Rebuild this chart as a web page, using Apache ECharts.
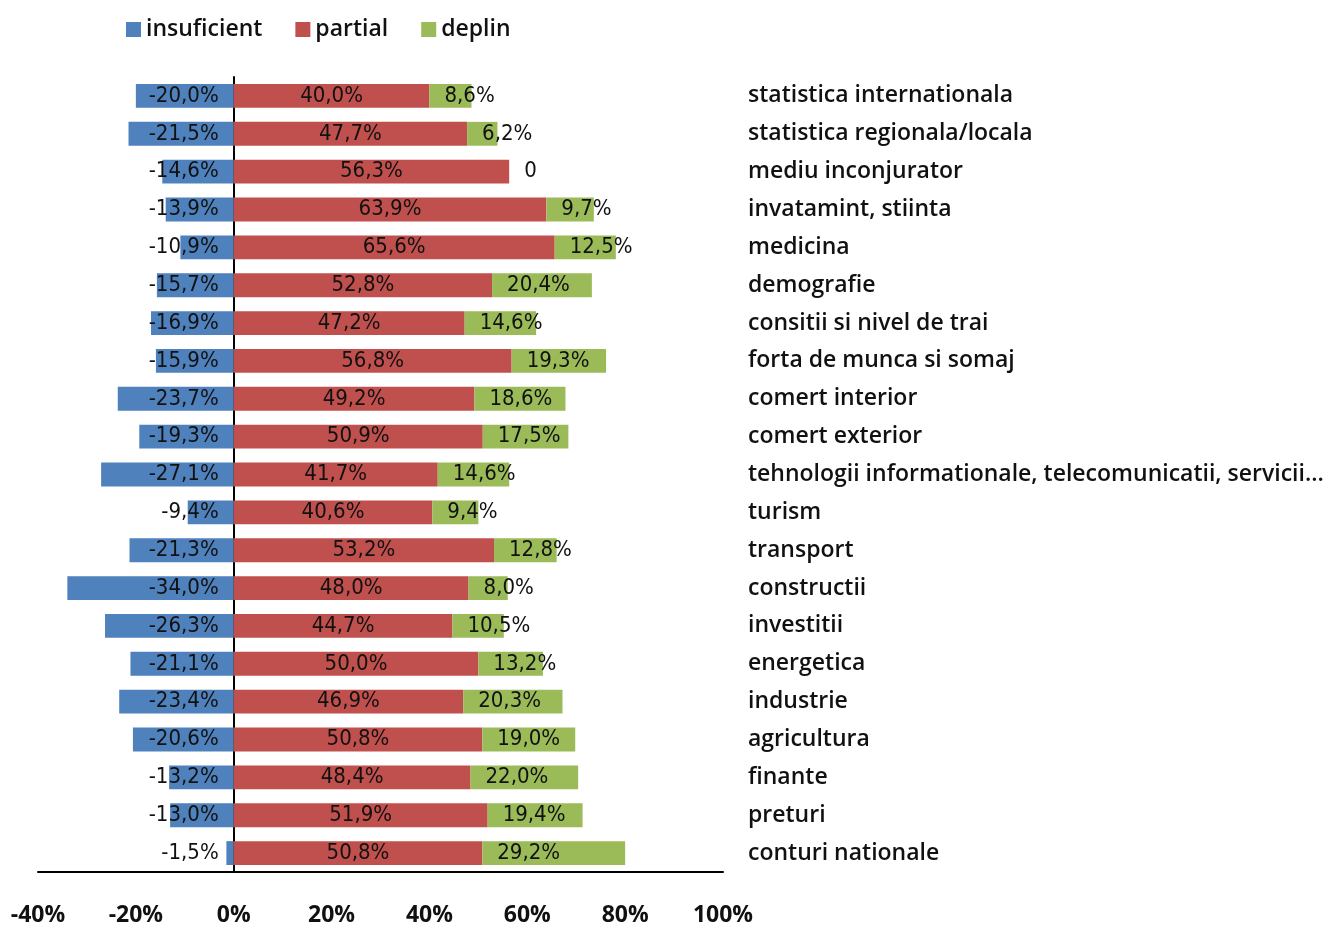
<!DOCTYPE html>
<html>
<head>
<meta charset="utf-8">
<script src="https://cdn.jsdelivr.net/npm/echarts@6/dist/echarts.min.js"></script>
<style>
  html, body { margin: 0; padding: 0; background: #fff; }
  #chart { width: 1327px; height: 927px; }
</style>
</head>
<body>
<div id="chart"></div>
<script>
// Domains, top to bottom
const categories = [
  'statistica internationala',
  'statistica regionala/locala',
  'mediu inconjurator',
  'invatamint, stiinta',
  'medicina',
  'demografie',
  'consitii si nivel de trai',
  'forta de munca si somaj',
  'comert interior',
  'comert exterior',
  'tehnologii informationale, telecomunicatii, servicii...',
  'turism',
  'transport',
  'constructii',
  'investitii',
  'energetica',
  'industrie',
  'agricultura',
  'finante',
  'preturi',
  'conturi nationale'
];

// Shares in percent (insufficient shown as negative)
const insuficient = [-20.0, -21.5, -14.6, -13.9, -10.9, -15.7, -16.9, -15.9, -23.7, -19.3, -27.1, -9.4, -21.3, -34.0, -26.3, -21.1, -23.4, -20.6, -13.2, -13.0, -1.5];
const partial = [40.0, 47.7, 56.3, 63.9, 65.6, 52.8, 47.2, 56.8, 49.2, 50.9, 41.7, 40.6, 53.2, 48.0, 44.7, 50.0, 46.9, 50.8, 48.4, 51.9, 50.8];
const deplin = [8.6, 6.2, 0, 9.7, 12.5, 20.4, 14.6, 19.3, 18.6, 17.5, 14.6, 9.4, 12.8, 8.0, 10.5, 13.2, 20.3, 19.0, 22.0, 19.4, 29.2];

const xTicks = { min: -40, max: 100, step: 20 };

const labelFont = '"Liberation Sans Narrow", "DejaVu Sans Condensed", "Liberation Sans", sans-serif';
const textFont = '"Open Sans", "Noto Sans", sans-serif';

function pct(v) {
  if (v === 0) return '0';
  return v.toFixed(1).replace('.', ',') + '%';
}

const chart = echarts.init(document.getElementById('chart'), null, { renderer: 'canvas' });

chart.setOption({
  animation: false,
  backgroundColor: '#ffffff',
  legend: {
    left: 121,
    top: 13,
    icon: 'rect',
    itemWidth: 15,
    itemHeight: 15,
    itemGap: 33,
    textStyle: { fontFamily: textFont, fontWeight: 600, fontSize: 23, color: '#111' },
    data: ['insuficient', 'partial', 'deplin']
  },
  grid: { left: 38, right: 604, top: 77, bottom: 52, containLabel: false },
  xAxis: {
    type: 'value',
    min: xTicks.min,
    max: xTicks.max,
    interval: xTicks.step,
    axisLine: { show: true, onZero: false, lineStyle: { color: '#000', width: 2 } },
    axisTick: { show: false },
    splitLine: { show: false },
    axisLabel: {
      margin: 32,
      formatter: v => v + '%',
      fontFamily: textFont,
      fontWeight: 700,
      fontSize: 23,
      color: '#111'
    }
  },
  yAxis: [
    {
      type: 'category',
      data: categories,
      inverse: true,
      axisLine: { show: true, onZero: true, lineStyle: { color: '#000', width: 2 } },
      axisTick: { show: false },
      axisLabel: { show: false },
      splitLine: { show: false }
    },
    {
      type: 'category',
      data: categories,
      inverse: true,
      position: 'right',
      axisLine: { show: false, onZero: false },
      axisTick: { show: false },
      splitLine: { show: false },
      axisLabel: {
        margin: 25,
        align: 'left',
        fontFamily: textFont,
        fontWeight: 600,
        fontSize: 23,
        color: '#111'
      }
    }
  ],
  series: [
    {
      name: 'insuficient',
      type: 'bar',
      stack: 'total',
      barCategoryGap: '37%',
      data: insuficient,
      itemStyle: { color: '#4F81BD' },
      label: {
        show: true,
        position: 'insideRight',
        distance: 15,
        formatter: p => pct(p.value),
        fontFamily: labelFont,
        fontSize: 22,
        color: '#111'
      }
    },
    {
      name: 'partial',
      type: 'bar',
      stack: 'total',
      data: partial,
      itemStyle: { color: '#C0504D' },
      label: {
        show: true,
        position: 'inside',
        formatter: p => pct(p.value),
        fontFamily: labelFont,
        fontSize: 22,
        color: '#111'
      }
    },
    {
      name: 'deplin',
      type: 'bar',
      stack: 'total',
      data: deplin,
      itemStyle: { color: '#9BBB59' },
      label: {
        show: true,
        position: 'insideLeft',
        distance: 15,
        formatter: p => pct(p.value),
        fontFamily: labelFont,
        fontSize: 22,
        color: '#111'
      }
    }
  ]
});
</script>
</body>
</html>
